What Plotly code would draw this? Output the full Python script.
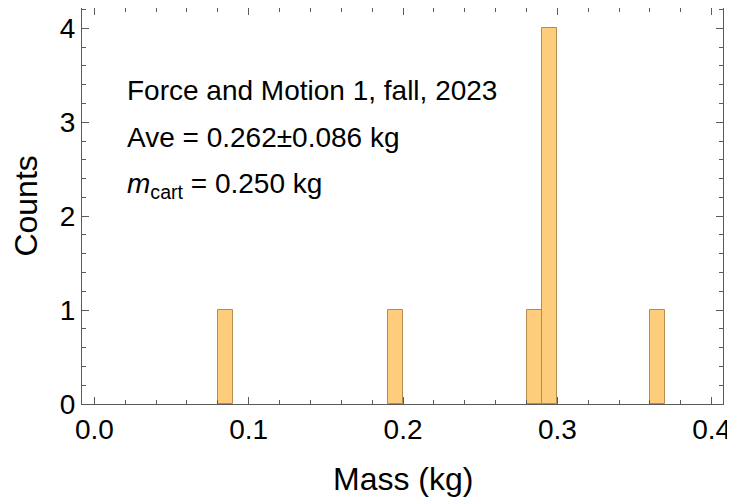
import plotly.graph_objects as go

bin_left = [0.08, 0.19, 0.28, 0.29, 0.36]
counts = [1, 1, 1, 4, 1]
bin_width = 0.01
x_ticks = [0.0, 0.1, 0.2, 0.3, 0.4]
y_ticks = [0, 1, 2, 3, 4]
notes = ["Force and Motion 1, fall, 2023",
         "Ave = 0.262\u00b10.086 kg",
         "<i>m</i><sub>cart</sub> = 0.250 kg"]
note_y = [3.333, 2.838, 2.33]
x_title = "Mass (kg)"
y_title = "Counts"

centers = [b + bin_width / 2 for b in bin_left]
FONT = "Liberation Sans, Arial, Helvetica, sans-serif"
AX = "rgb(90,90,90)"

fig = go.Figure()
fig.add_trace(go.Bar(
    x=centers, y=counts, width=[bin_width] * len(counts),
    marker=dict(color="rgb(254,205,124)", line=dict(color="rgb(180,140,80)", width=1)),
    showlegend=False,
))
# invisible trace to activate the mirror axes (top / right) used for minor ticks
fig.add_trace(go.Scatter(x=[None], y=[None], xaxis="x2", yaxis="y2",
                         showlegend=False, hoverinfo="skip"))

for t, yy in zip(notes, note_y):
    fig.add_annotation(x=0.02, y=yy, xref="x", yref="y", text=t, showarrow=False,
                       xanchor="left", yanchor="middle",
                       font=dict(family=FONT, size=28, color="black"))

title_font = dict(family=FONT, size=32, color="black")
fig.add_annotation(x=0.5, y=-0.19, xref="paper", yref="paper", text=x_title,
                   showarrow=False, xanchor="center", yanchor="middle", font=title_font)
fig.add_annotation(x=-0.088, y=0.5, xref="paper", yref="paper", text=y_title, textangle=-90,
                   showarrow=False, xanchor="center", yanchor="middle", font=title_font)

tick_font = dict(family=FONT, size=28, color="black")
common = dict(showline=True, linecolor=AX, linewidth=1, mirror=True,
              ticks="inside", tickcolor=AX, ticklen=7, tickwidth=1,
              showgrid=False, zeroline=False, automargin=False)

XR = [-0.008, 0.4073]
YR = [0, 4.216]

fig.update_layout(
    xaxis=dict(range=XR, tickvals=x_ticks, tickformat=".1f", tickfont=tick_font,
               minor=dict(dtick=0.02, tick0=0, ticks="inside", ticklen=4, tickcolor=AX),
               **common),
    yaxis=dict(range=YR, tickvals=y_ticks, tickfont=tick_font,
               minor=dict(dtick=0.2, tick0=0, ticks="inside", ticklen=4, tickcolor=AX),
               **common),
    xaxis2=dict(range=XR, overlaying="x", side="top", tickvals=x_ticks, showticklabels=False,
                ticks="inside", tickcolor=AX, ticklen=7, showgrid=False, zeroline=False,
                minor=dict(dtick=0.02, tick0=0, ticks="inside", ticklen=4, tickcolor=AX),
                automargin=False),
    yaxis2=dict(range=YR, overlaying="y", side="right", tickvals=y_ticks, showticklabels=False,
                ticks="inside", tickcolor=AX, ticklen=7, showgrid=False, zeroline=False,
                minor=dict(dtick=0.2, tick0=0, ticks="inside", ticklen=4, tickcolor=AX),
                automargin=False),
    width=727, height=489, margin=dict(l=74, r=12, t=0, b=93),
    plot_bgcolor="white", paper_bgcolor="white", bargap=0,
    font=dict(family=FONT),
)
fig.write_html("out.html")
